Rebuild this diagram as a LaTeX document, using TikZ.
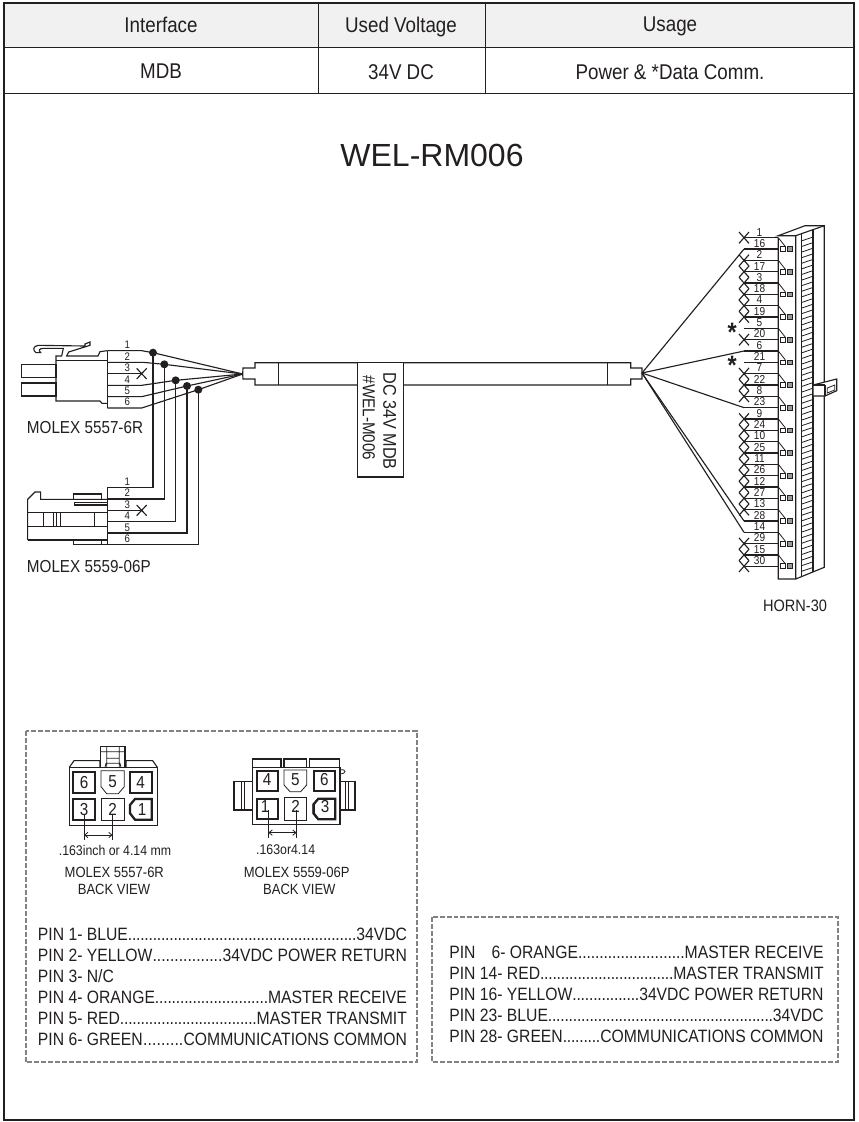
\documentclass[tikz,border=0pt]{standalone}
\usepackage{fontspec}
\setmainfont[FakeStretch=0.88]{Liberation Sans}
\newfontfamily\titlefont{Liberation Sans}
\usetikzlibrary{arrows.meta}
\definecolor{ink}{HTML}{231F20}
\definecolor{dashc}{HTML}{808285}
\definecolor{headc}{HTML}{F1F1F2}
\newcommand{\pinline}[3]{\hbox to #1{#2\xleaders\hbox to 3.1pt{\hss.\hss}\hfill #3}}
\tikzset{
  tx/.style={inner sep=0pt,text=ink,text depth=0pt,text height=0.716*#1 pt,font=\fontsize{#1}{#1}\selectfont},
  ln/.style={draw=ink,line width=0.85pt,line join=miter},
  thin ln/.style={draw=ink,line width=0.6pt},
  frameline/.style={draw=ink,line width=1.9pt},
  gridline/.style={draw=ink,line width=0.7pt},
  dashframe/.style={draw=dashc,line width=1.4pt,dash pattern=on 3.7pt off 1.5pt},
  junction/.style={circle,fill=ink,inner sep=0pt,minimum size=6pt},
  thick cav/.style={draw=ink,line width=1.7pt},
  dim tip/.style={draw=ink,line width=0.6pt,{Straight Barb[length=2.5pt,width=4pt]}-{Straight Barb[length=2.5pt,width=4pt]}},
}
\begin{document}
\begin{tikzpicture}[x=0.75pt,y=-0.75pt]
\useasboundingbox (0,0) rectangle (858,1122);
\fill[white] (0,0) rectangle (858,1122);
% ---------- table and frame
\fill[headc] (4,3) rectangle (854,47);
\draw[gridline] (4,47) -- (854,47);
\draw[gridline] (4,93) -- (854,93);
\draw[gridline] (318,3) -- (318,93);
\draw[gridline] (485,3) -- (485,93);
\draw[frameline] (4,3) rectangle (854,1120);
\node[tx=16] (h1) at (161,25) {Interface};
\node[tx=16] (h2) at (401,25) {Used Voltage};
\node[tx=16] (h3) at (670,24) {Usage};
\node[tx=16] (r1) at (161,71) {MDB};
\node[tx=16] (r2) at (401,72) {34V DC};
\node[tx=16] (r3) at (670,72) {Power \& *Data Comm.};
\node[tx=24] (title) at (432,155) {\titlefont WEL-RM006};
% ---------- left connectors (zoom coordinates)
\begin{scope}[shift={(10,320)},x=0.25pt,y=-0.25pt]
  \draw[ln] (35,133) rectangle (138,173);
  \draw[ln] (35,189) rectangle (138,228);
  \draw[ln] (292,92) -- (270,95) -- (264,108) -- (170,108) -- (176,96) -- (240,76) -- (240,66) -- (225,72) -- (225,78) -- (85,76) .. controls (68,78) and (68,92) .. (78,98) -- (92,98) .. controls (84,90) and (88,86) .. (100,85) -- (160,85) -- (155,108) -- (138,108) -- (138,243) -- (270,243) -- (276,250) -- (292,250);
  \draw[ln] (138,122) -- (292,122);
  \draw[ln] (292,92) -- (292,264);
  \node[junction] (d1) at (429,98) {};
  \node[junction] (d2) at (463,133) {};
  \node[junction] (d3) at (497,181) {};
  \node[junction] (d4) at (531,198) {};
  \node[junction] (d5) at (565,209) {};
  \coordinate (apexL) at (698,162);
  \foreach \d/\y/\xb in {d1/92/395,d2/127/400,d3/196/395,d4/230/395,d5/264/395}{
    \draw[ln] (292,\y) -- (\xb,\y) -- (\d.center) -- (apexL);
  }
  \draw[ln] (292,161) -- (397,161);
  \draw[ln] (380,145) -- (410,177) (380,177) -- (410,145);
  \foreach \t/\y in {1/75,2/109,3/143,4/178,5/212,6/246}{ \node[tx=8.2] (na\t) at (352,\y) {\t}; }
  \node[tx=13,anchor=west] (m1) at (50,322) {MOLEX 5557-6R};
  % lower connector
  \draw[ln] (53,660) -- (53,538) -- (75,516) -- (92,516) -- (92,538) -- (292,538);
  \draw[ln] (53,578) -- (292,578);
  \draw[ln] (53,620) -- (292,620);
  \draw[ln] (53,660) -- (292,660);
  \foreach \x in {99,130,140,150,252}{ \draw[thin ln] (\x,578) -- (\x,620); }
  \draw[ln] (190,538) -- (190,522) -- (275,522) -- (275,538);
  \draw[ln] (292,548) -- (193,548) -- (193,555) -- (292,555);
  \draw[ln] (190,660) -- (190,673);
  \draw[ln] (275,660) -- (275,673);
  \draw[ln] (292,503) -- (292,673);
  \foreach \d/\y/\xb in {d1/503/429,d2/537/463,d3/605/497,d4/639/531,d5/673/565}{
    \draw[ln] (292,\y) -- (\xb,\y) -- (\d.center);
  }
  \draw[ln] (190,673) -- (292,673);
  \draw[ln] (292,571) -- (397,571);
  \draw[ln] (380,555) -- (410,587) (380,587) -- (410,555);
  \foreach \t/\y in {1/485,2/519,3/553,4/588,5/622,6/656}{ \node[tx=8.2] (nb\t) at (352,\y) {\t}; }
  \node[tx=13,anchor=west] (m2) at (50,738) {MOLEX 5559-06P};
\end{scope}
% ---------- cable
\coordinate (apexR) at (642,373);
\draw[ln] (apexL) -- (243,368) -- (255,368) -- (255,362.7) -- (630.7,362.7) -- (630.7,368) -- (642,368) -- (apexR) -- (642,379) -- (630.7,379) -- (630.7,385) -- (255,385) -- (255,379) -- (243,379) -- (apexL);
\draw[ln] (278.3,362.7) -- (278.3,385);
\draw[ln] (607.7,362.7) -- (607.7,385);
\draw[ln,fill=white] (357.7,362.7) rectangle (403.7,477);
\node[tx=13.8,rotate=-90] (lab1) at (390,421) {DC 34V MDB};
\node[tx=13,rotate=-90] (lab2) at (369,418) {\#WEL-M006};
% ---------- HORN connector
\foreach \n [count=\c from 0] in {1,16,2,17,3,18,4,19,5,20,6,21,7,22,8,23,9,24,10,25,11,26,12,27,13,28,14,29,15,30}{
  \pgfmathsetmacro{\yy}{237.7+11.33*\c}
  \coordinate (hw\c) at (744,\yy);
  \coordinate (he\c) at (778.3,\yy);
  \draw[ln] (hw\c) -- (he\c);
  \node[tx=8.6] (hn\c) at (759.5,\yy-5.8) {\n};
}
\foreach \c in {0,2,3,4,5,6,7,9,12,13,14,16,17,18,19,20,21,22,23,24,27,28,29}{
  \draw[ln] ([shift={(-5,-5.7)}]hw\c) -- ([shift={(5,5.7)}]hw\c);
  \draw[ln] ([shift={(-5,5.7)}]hw\c) -- ([shift={(5,-5.7)}]hw\c);
}
\foreach \c in {1,10,15,25,26}{ \draw[ln] (apexR) -- (hw\c); }
\draw[ln] (778.3,237.7) -- (778.3,579) -- (795.7,579) -- (795.7,235.7) -- (778.3,235.7) -- (805,225.7) -- (824.3,225.7) -- (824.3,567.3) -- (795.7,579);
\draw[ln] (795.7,235.7) -- (824.3,225.7);
\draw[ln] (801.3,233.8) -- (801.3,575.7);
\draw[ln] (813,229.7) -- (813,571.7);
\foreach \k in {0,...,59}{
  \pgfmathsetmacro{\yh}{237+\k*5.6}
  \draw[thin ln] (801.3,\yh+4) -- (813,\yh);
}
\foreach \c [evaluate=\c as \p using int(\c-1)] in {1,3,...,29}{
  \draw[thin ln] (he\p) -- ([shift={(7,-2.5)}]he\c);
  \draw[thin ln] ([shift={(2.2,-2.4)}]he\c) rectangle ([shift={(7,2.4)}]he\c);
  \draw[thin ln,fill=ink!45] ([shift={(8.8,-2.4)}]he\c) rectangle ([shift={(13.8,2.4)}]he\c);
}
\draw[ln,fill=white] (813,385) -- (836.7,379) -- (836.7,390.7) -- (825,396) -- (813,396) -- cycle;
\draw[ln] (825,385) -- (825,396) (813,385) -- (825,385);
\draw[thin ln] (827.3,388) -- (834.7,385) -- (834.7,390) -- (827.3,393) -- cycle;
\node[inner sep=0pt,anchor=base,text=ink,font=\fontsize{20}{20}\selectfont\bfseries] (s1) at (732.3,341) {*};
\node[inner sep=0pt,anchor=base,text=ink,font=\fontsize{20}{20}\selectfont\bfseries] (s2) at (732.3,374) {*};
\node[tx=12.4] (horn) at (795,606) {HORN-30};
% ---------- dashed frames
\draw[dashframe] (25.7,731) rectangle (417,1062.3);
\draw[dashframe] (431.7,917.3) rectangle (838,1061.7);
% ---------- back views (zoom coordinates)
\begin{scope}[shift={(30,735)},x=0.25pt,y=-0.25pt]
  \draw[ln] (118,97) rectangle (382,272);
  \draw[ln] (118,97) -- (132,77) -- (210,77) -- (210,97);
  \draw[ln] (288,97) -- (288,77) -- (368,77) -- (382,97);
  \draw[ln] (212,97) -- (212,35) -- (285,35) -- (285,97);
  \draw[thin ln] (230,35) -- (230,97) (268,35) -- (268,97) (212,50) -- (285,50) (230,70) -- (268,70) (225,97) -- (228,85) -- (270,85) -- (273,97);
  \draw[thick cav] (130,110) rectangle (195,174);
  \draw[thick cav] (300,110) rectangle (365,174);
  \draw[thick cav] (130,192) rectangle (195,254);
  \draw[thick cav] (315,192) -- (365,192) -- (365,254) -- (315,254) -- (300,235) -- (300,210) -- cycle;
  \draw[thin ln] (213,107) -- (283,107) -- (283,155) -- (265,176) -- (230,176) -- (213,155) -- cycle;
  \draw[thin ln] (213,190) rectangle (283,256);
  \node[tx=13] (a6) at (162,142) {6};
  \node[tx=13] (a5) at (248,140) {5};
  \node[tx=13] (a4) at (332,142) {4};
  \node[tx=13] (a3) at (162,223) {3};
  \node[tx=13] (a2) at (248,223) {2};
  \node[tx=13] (a1) at (336,223) {1};
  \draw[thin ln] (162,240) -- (162,315) (248,240) -- (248,315);
  \draw[dim tip] (162,300) -- (248,300);
  \node[tx=10.5] (a7) at (255,347) {.163inch or 4.14 mm};
  \node[tx=11.1] (a8) at (253,412) {MOLEX 5557-6R};
  \node[tx=11.1] (a9) at (252,463) {BACK VIEW};
  % right
  \draw[ln] (667,97) rectangle (930,268);
  \foreach \xa/\xb in {668/753,762/830,838/928}{ \draw[ln] (\xa,97) rectangle (\xb,72); }
  \draw[ln] (667,140) -- (612,140) -- (612,225) -- (667,225);
  \draw[thin ln] (635,140) -- (635,225) (642,140) -- (642,225);
  \draw[ln] (930,140) -- (975,140) -- (975,225) -- (930,225);
  \draw[thin ln] (945,140) -- (945,225) (955,140) -- (955,225);
  \draw[thin ln] (930,105) .. controls (950,100) and (950,118) .. (930,116);
  \draw[thick cav] (680,108) rectangle (743,168);
  \draw[thick cav] (851,108) rectangle (916,168);
  \draw[thick cav] (680,191) rectangle (743,253);
  \draw[thick cav] (865,191) -- (916,191) -- (916,253) -- (865,253) -- (851,235) -- (851,208) -- cycle;
  \draw[thin ln] (860,195) -- (848,208) -- (848,235) -- (860,250);
  \draw[thin ln] (762,105) -- (830,105) -- (830,150) -- (812,170) -- (780,170) -- (762,150) -- cycle;
  \draw[thin ln] (762,188) rectangle (830,255);
  \node[tx=13] (b4) at (711,132) {4};
  \node[tx=13] (b5) at (796,132) {5};
  \node[tx=13] (b6) at (883,132) {6};
  \node[tx=13] (b1) at (705,215) {1};
  \node[tx=13] (b2) at (797,215) {2};
  \node[tx=13] (b3) at (885,215) {3};
  \draw[thin ln] (715,225) -- (715,308) (800,225) -- (800,308);
  \draw[dim tip] (715,293) -- (800,293);
  \node[tx=10.5] (b7) at (767,343) {.163or4.14};
  \node[tx=11.1] (b8) at (800,412) {MOLEX 5559-06P};
  \node[tx=11.1] (b9) at (808,463) {BACK VIEW};
\end{scope}
% ---------- pin lists
\foreach \y/\l/\r [count=\c] in {934/PIN 1- BLUE/34VDC,955/PIN 2- YELLOW/34VDC POWER RETURN,997/PIN 4- ORANGE/MASTER RECEIVE,1018/PIN 5- RED/MASTER TRANSMIT,1039/PIN 6- GREEN/COMMUNICATIONS COMMON}{
  \node[tx=13.4,anchor=west] (pa\c) at (37.7,\y) {\pinline{276.7pt}{\l}{\r}};
}
\node[tx=13.4,anchor=west] (pa6) at (37.7,976) {PIN 3- N/C};
\foreach \y/\l/\r [count=\c] in {951.7/PIN\hspace{0.9em}6- ORANGE/MASTER RECEIVE,972.9/PIN 14- RED/MASTER TRANSMIT,994/PIN 16- YELLOW/34VDC POWER RETURN,1015/PIN 23- BLUE/34VDC,1036/PIN 28- GREEN/COMMUNICATIONS COMMON}{
  \node[tx=13.4,anchor=west] (pb\c) at (449,\y) {\pinline{280.7pt}{\l}{\r}};
}
\end{tikzpicture}
\end{document}
